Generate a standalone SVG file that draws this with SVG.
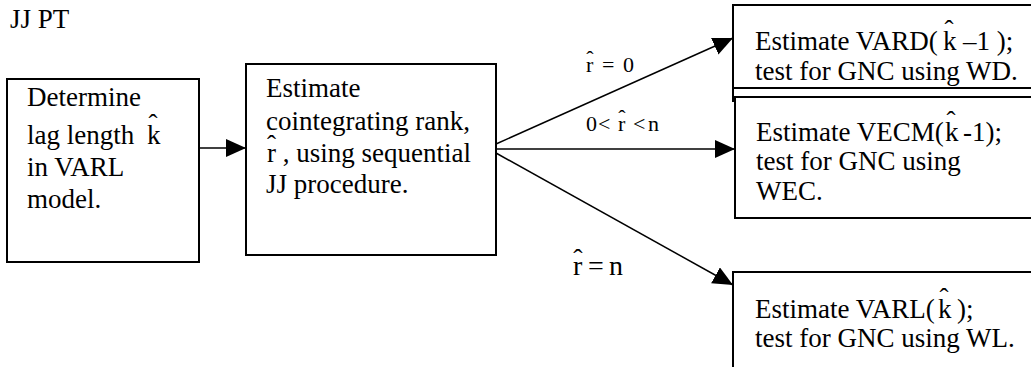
<svg xmlns="http://www.w3.org/2000/svg" width="1031" height="367" viewBox="0 0 1031 367">
  <style>
    text { font-family: "Liberation Serif", "Times New Roman", serif; fill: #000; }
    .t { font-size: 27px; }
    .lab { font-size: 22px; }
    .big { font-size: 28px; }
    .hat { text-anchor: middle; }
    .box { fill: #fff; stroke: #000; stroke-width: 2; }
    .conn { stroke: #000; stroke-width: 1.5; fill: none; marker-end: url(#arrow); }
  </style>
  <defs>
    <marker id="arrow" markerUnits="userSpaceOnUse" markerWidth="21" markerHeight="19" refX="20" refY="9" orient="auto">
      <path d="M0,0 L20,9 L0,18 z" fill="#000"/>
    </marker>
  </defs>
  <rect width="1031" height="367" fill="#fff"/>

  <text id="title" class="t" x="10" y="28">JJ PT</text>

  <g id="connectors">
    <line class="conn" x1="199" y1="148" x2="246" y2="148"/>
    <line class="conn" x1="496" y1="144" x2="733" y2="38"/>
    <line class="conn" x1="496" y1="149" x2="735" y2="149"/>
    <line class="conn" x1="496" y1="153" x2="733" y2="285"/>
  </g>

  <g id="labels">
    <g id="label-r0">
      <text class="lab" x="586" y="72">r</text>
      <text class="lab hat" x="590" y="66">ˆ</text>
      <text class="lab" x="602" y="72">=</text>
      <text class="lab" x="623" y="72">0</text>
    </g>
    <g id="label-rmid">
      <text class="lab" x="586" y="131">0</text>
      <text class="lab" x="598" y="131">&lt;</text>
      <text class="lab" x="618" y="131">r</text>
      <text class="lab hat" x="622" y="125">ˆ</text>
      <text class="lab" x="633" y="131">&lt;</text>
      <text class="lab" x="648" y="131">n</text>
    </g>
    <g id="label-rn">
      <text class="big" x="573" y="275">r</text>
      <text class="big hat" x="578" y="268">ˆ</text>
      <text class="big" x="588" y="275">=</text>
      <text class="big" x="609" y="275">n</text>
    </g>
  </g>

  <g id="node-lag">
    <rect class="box" x="7" y="79" width="192" height="183"/>
    <text class="t" x="27" y="106">Determine</text>
    <text class="t" x="27" y="144">lag length</text>
    <text class="t" x="147" y="144">k</text>
    <text class="t hat" x="153" y="133">ˆ</text>
    <text class="t" x="27" y="176">in VARL</text>
    <text class="t" x="27" y="208">model.</text>
  </g>

  <g id="node-rank">
    <rect class="box" x="246" y="64" width="250" height="191"/>
    <text class="t" x="266" y="97">Estimate</text>
    <text class="t" x="266" y="130">cointegrating rank,</text>
    <text class="t" x="267" y="162">r , using sequential</text>
    <text class="t hat" x="271.5" y="154">ˆ</text>
    <text class="t" x="266" y="193">JJ procedure.</text>
  </g>

  <g id="node-vard">
    <rect class="box" x="733" y="5" width="320" height="83"/>
    <line x1="733" y1="88" x2="733" y2="102" stroke="#000" stroke-width="2"/>
    <text class="t" x="755" y="50">Estimate VARD(</text>
    <text class="t" x="943" y="50">k</text>
    <text class="t hat" x="949" y="39">ˆ</text>
    <text class="t" x="963" y="50">–1 );</text>
    <text class="t" x="755" y="80">test for GNC using WD.</text>
  </g>

  <g id="node-vecm">
    <rect class="box" x="735" y="97" width="320" height="121"/>
    <text class="t" x="756" y="141">Estimate VECM(</text>
    <text class="t" x="945" y="141">k</text>
    <text class="t hat" x="951" y="130">ˆ</text>
    <text class="t" x="963" y="141">-1);</text>
    <text class="t" x="756" y="170">test for GNC using</text>
    <text class="t" x="756" y="200">WEC.</text>
  </g>

  <g id="node-varl">
    <rect class="box" x="733" y="272" width="320" height="120"/>
    <text class="t" x="755" y="318">Estimate VARL(</text>
    <text class="t" x="938" y="318">k</text>
    <text class="t hat" x="944" y="307">ˆ</text>
    <text class="t" x="957" y="318">);</text>
    <text class="t" x="755" y="347">test for GNC using WL.</text>
  </g>
</svg>
